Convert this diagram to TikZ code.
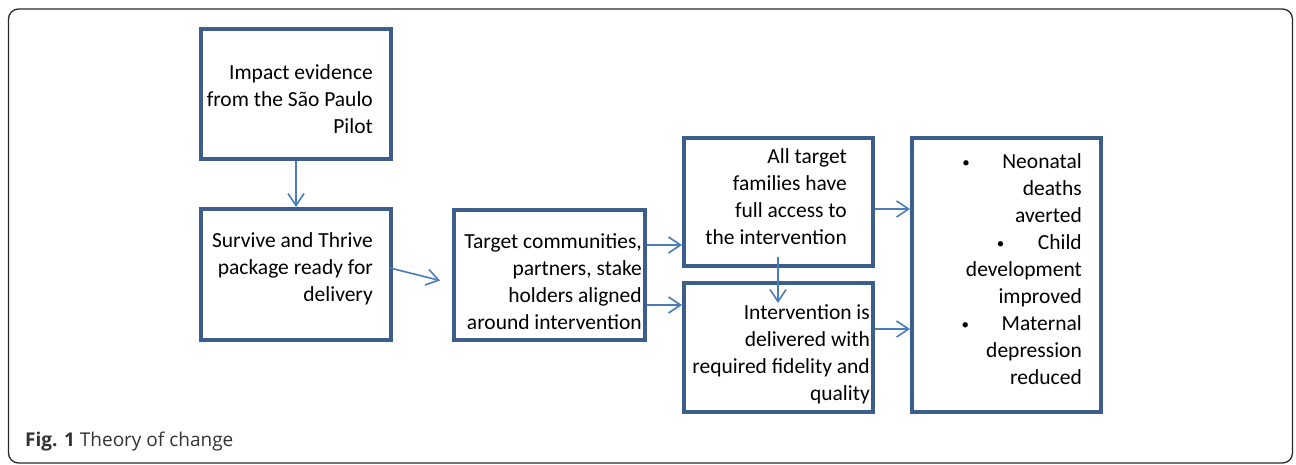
\documentclass[tikz,border=0pt]{standalone}
\usepackage{fontspec}
\setmainfont{Carlito}
\newfontfamily\capfont{Open Sans}
\usetikzlibrary{arrows.meta}
\definecolor{boxblue}{RGB}{60,94,140}
\definecolor{arrblue}{RGB}{74,126,187}
\definecolor{framegray}{RGB}{40,40,40}
\definecolor{capgray}{RGB}{50,50,50}
\newcommand{\smbul}[1]{\makebox[#1][l]{\raisebox{1pt}{\fontsize{15}{15}\selectfont •}}}
\tikzset{
  stepbox/.style={draw=boxblue, line width=4pt, minimum width=#1, inner sep=0pt, fill=white},
  boxtext/.style={anchor=east, align=right, inner sep=0pt, font=\fontsize{21.5}{27}\selectfont, text=black},
  arr/.style={draw=arrblue, line width=1.6pt, -{Straight Barb[length=12pt,width=16pt,line width=1.6pt]}},
}
\begin{document}
\begin{tikzpicture}[x=1pt,y=-1pt]
\useasboundingbox (0,0) rectangle (1296,465);
\draw[framegray, line width=1.3pt, rounded corners=10pt] (8.5,9) rectangle (1292.5,463);

\node[stepbox=190pt, minimum height=130pt] (b1) at (296,94) {};
\node[stepbox=190pt, minimum height=131pt] (b2) at (296,274.5) {};
\node[stepbox=191pt, minimum height=130pt] (b3) at (549.5,275) {};
\node[stepbox=189pt, minimum height=128pt] (b4) at (778.5,202) {};
\node[stepbox=189pt, minimum height=129pt] (b5) at (778.5,347.5) {};
\node[stepbox=189pt, minimum height=274pt] (b6) at (1006.5,275) {};

\node[boxtext] (t1) at (373,99.5) {Impact evidence\\from the São Paulo\\Pilot};
\node[boxtext] (t2) at (373,268.5) {Survive and Thrive\\package ready for\\delivery};
\node[boxtext] (t3) at (642,281.5) {Target communities,\\partners, stake\\holders aligned\\around intervention};
\node[boxtext] (t4) at (847,196.5) {All target\\families have\\full access to\\the intervention};
\node[boxtext] (t5) at (870,354) {Intervention is\\delivered with\\required fidelity and\\quality};
\node[boxtext] (t6) at (1082,269) {\smbul{40pt}Neonatal\\deaths\\averted\\\smbul{41pt}Child\\development\\improved\\\smbul{40pt}Maternal\\depression\\reduced};

\coordinate (p1) at (390,268);
\coordinate (p2) at (440,280.5);
\draw[arr] (b1.south) -- (b2.north);
\draw[arr] (p1) -- (p2);
\draw[arr] (b3.east |- 0,245) -- (b4.west |- 0,245);
\draw[arr] (b3.east |- 0,305) -- (b5.west |- 0,305);
\coordinate (p3) at (778,257);
\draw[arr] (p3) -- (p3 |- 0,303);
\draw[arr] (b4.east |- 0,209) -- (b6.west |- 0,209);
\draw[arr] (b5.east |- 0,329) -- (b6.west |- 0,329);

\node[anchor=west, inner sep=0pt, text=capgray, font=\capfont\fontsize{19}{23}\selectfont] (cap) at (25,442) {\textbf{Fig. 1} Theory of change};
\end{tikzpicture}
\end{document}
